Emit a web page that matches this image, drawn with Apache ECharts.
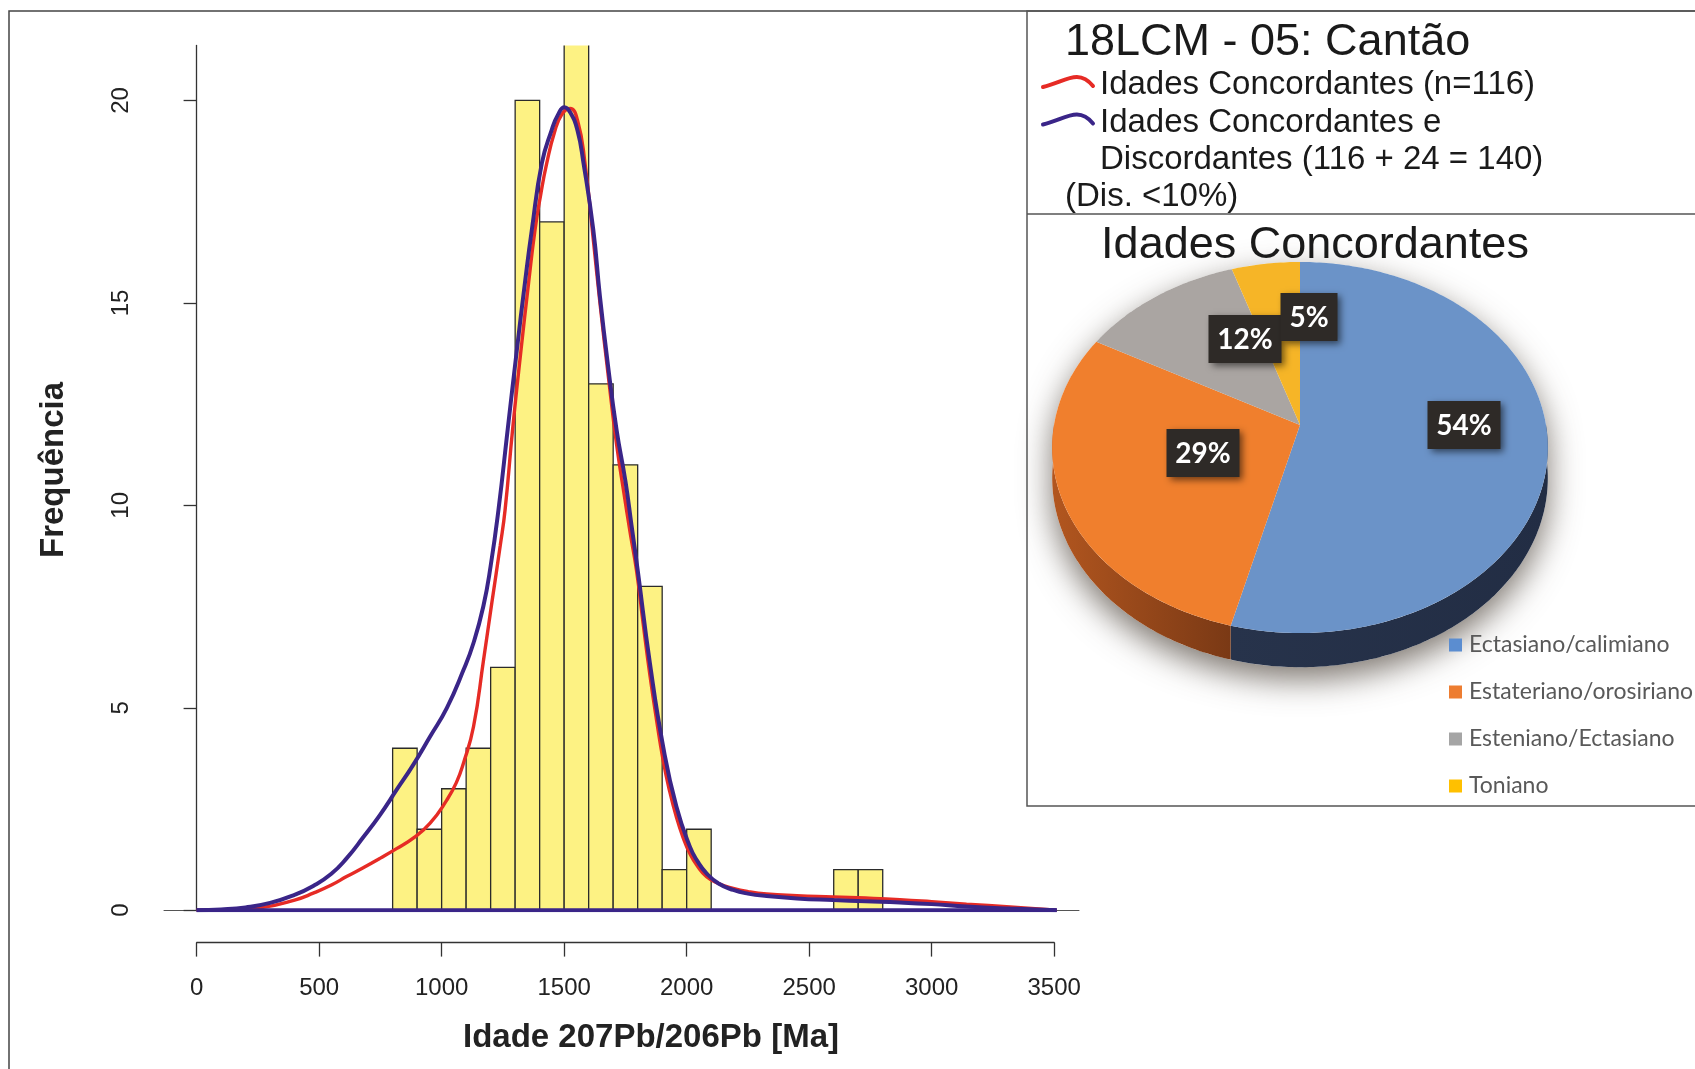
<!DOCTYPE html>
<html><head><meta charset="utf-8">
<script src="https://cdn.jsdelivr.net/npm/echarts@6/dist/echarts.min.js"></script>
<style>html,body{margin:0;padding:0;background:#fff}#c{width:1695px;height:1069px}</style>
</head><body><div id="c"></div>
<script>
// ---------------- data ----------------
const binStarts = [800, 900, 1000, 1100, 1200, 1300, 1400, 1500, 1600, 1700, 1800, 1900, 2000, 2600, 2700];
const binCounts = [4, 2, 3, 4, 6, 20, 17, 23, 13, 11, 8, 1, 2, 1, 1];
const BIN_WIDTH = 100;

const redAge  = [0, 150, 271, 400, 476, 550, 612, 680, 748, 816, 884, 953, 1021, 1060, 1089, 1130, 1171, 1205, 1239, 1259, 1290, 1324, 1355, 1381, 1405, 1429, 1460, 1490, 1524, 1555, 1585, 1620, 1646, 1680, 1714, 1744, 1770, 1795, 1822, 1850, 1877, 1904, 1930, 1958, 1985, 2013, 2045, 2081, 2130, 2190, 2250, 2326, 2450, 2598, 2730, 2870, 3000, 3142, 3320, 3510];
const redFreq = [0, 0.02, 0.07, 0.25, 0.42, 0.62, 0.83, 1.05, 1.28, 1.52, 1.78, 2.15, 2.72, 3.15, 3.63, 4.53, 6.18, 7.6, 9.0, 9.89, 11.9, 13.84, 15.5, 16.8, 17.7, 18.45, 19.2, 19.65, 19.8, 19.5, 18.45, 16.5, 15.0, 13.2, 11.5, 10.3, 9.3, 8.4, 7.1, 5.8, 4.7, 3.7, 2.95, 2.3, 1.8, 1.4, 1.08, 0.83, 0.66, 0.54, 0.46, 0.4, 0.36, 0.33, 0.3, 0.26, 0.21, 0.15, 0.08, 0];

const blueAge  = [0, 100, 200, 300, 400, 476, 550, 612, 680, 748, 816, 884, 953, 1021, 1089, 1130, 1170, 1200, 1232, 1270, 1307, 1340, 1368, 1409, 1449, 1475, 1501, 1525, 1554, 1579, 1619, 1646, 1678, 1714, 1750, 1775, 1800, 1850, 1904, 1958, 2013, 2045, 2081, 2130, 2190, 2250, 2326, 2450, 2598, 2730, 2870, 3000, 3142, 3320, 3510];
const blueFreq = [0, 0.02, 0.07, 0.18, 0.38, 0.6, 0.9, 1.28, 1.8, 2.35, 2.97, 3.59, 4.29, 4.99, 5.93, 6.6, 7.5, 8.5, 9.89, 11.9, 13.84, 15.5, 16.8, 18.45, 19.27, 19.65, 19.83, 19.7, 19.27, 18.45, 16.8, 15.16, 13.5, 11.86, 10.6, 9.5, 8.4, 6.1, 4.04, 2.56, 1.57, 1.2, 0.91, 0.66, 0.5, 0.41, 0.35, 0.29, 0.25, 0.22, 0.19, 0.15, 0.09, 0.04, 0];

const xTicks = [0, 500, 1000, 1500, 2000, 2500, 3000, 3500];
const yTicks = [0, 5, 10, 15, 20];

const pieNames  = ['Ectasiano/calimiano', 'Estateriano/orosiriano', 'Esteniano/Ectasiano', 'Toniano'];
const pieValues = [54, 29, 12, 5];

const xTitle = 'Idade 207Pb/206Pb [Ma]';
const yTitle = 'Frequência';
const panelTitle = '18LCM - 05: Cantão';
const redLegend = 'Idades Concordantes (n=116)';
const blueLegend = ['Idades Concordantes e', 'Discordantes (116 + 24 = 140)'];
const noteText = '(Dis. <10%)';
const pieTitle = 'Idades Concordantes';

// ---------------- styles / layout ----------------
const SANS = '"Liberation Sans", Arial, sans-serif';
const CAL = 'Lato, "Open Sans", sans-serif';
const pieTop   = ['#6b93c8', '#f07f2d', '#aaa5a2', '#f6b527'];
const pieSide  = [['#27334b', '#222d44'], ['#b2561f', '#7a3915'], ['#7f7a77', '#6f6a67'], ['#b88512', '#a57510']];
const pieLegendColor = ['#5b8dd0', '#ed7d31', '#a5a5a5', '#ffc000'];
const PIE = {cx: 1300, cy: 425, rx: 246, ry: 182.8, k: 0.1213, h: 30};
const labelOffsets = [[164, 0], [-97, 28], [-55, -86], [9, -108]];

const total = pieValues.reduce((a, b) => a + b, 0);
const starts = [];
{ let acc = 0; pieValues.forEach(v => { starts.push(acc / total * 2 * Math.PI); acc += v; }); }
function proj(t, d) {
  const w = 1 + PIE.k * Math.cos(t);
  return [PIE.cx + PIE.rx * Math.sin(t) / w, PIE.cy + (-PIE.ry * Math.cos(t) + d) / w];
}
function arc(a0, a1, d) {
  const n = Math.max(6, Math.ceil((a1 - a0) / 0.015));
  const pts = [];
  for (let i = 0; i <= n; i++) pts.push(proj(a0 + (a1 - a0) * i / n, d));
  return pts;
}

const chart = echarts.init(document.getElementById('c'), null, {renderer: 'canvas'});

const option = {
  backgroundColor: '#ffffff',
  animation: false,
  grid: [
    {left: 164, top: 45.4, width: 915, height: 864.8, containLabel: false, outerBoundsMode: 'none'},
    {left: 196.7, top: 900, width: 857.5, height: 42.6, containLabel: false, outerBoundsMode: 'none'}
  ],
  xAxis: [
    {gridIndex: 0, type: 'value', min: -133, max: 3601,
      axisLine: {show: true, onZero: true, lineStyle: {color: '#555', width: 1}},
      axisTick: {show: false}, axisLabel: {show: false}, splitLine: {show: false}},
    {gridIndex: 1, type: 'value', min: 0, max: 3500, interval: 500,
      axisLine: {show: true, lineStyle: {color: '#333', width: 1.3}},
      axisTick: {show: true, length: 14, customValues: xTicks, lineStyle: {color: '#333', width: 1.3}},
      axisLabel: {show: true, customValues: xTicks, margin: 34, fontSize: 24, fontFamily: SANS, color: '#222',
        formatter: v => String(v)},
      splitLine: {show: false}}
  ],
  yAxis: [
    {gridIndex: 0, type: 'value', min: 0, max: 21.36,
      axisLine: {show: true, lineStyle: {color: '#333', width: 1.3}},
      axisTick: {show: true, length: 13, customValues: yTicks, lineStyle: {color: '#333', width: 1.3}},
      axisLabel: {show: true, customValues: yTicks, rotate: 90, margin: 31, fontSize: 24, fontFamily: SANS, color: '#222',
        formatter: v => String(v)},
      splitLine: {show: false}},
    {gridIndex: 1, type: 'value', min: 0, max: 1, show: false}
  ],
  series: [
    {
      type: 'custom', name: 'hist', xAxisIndex: 0, yAxisIndex: 0, z: 2,
      data: binStarts.map((s, i) => [s, binCounts[i]]),
      renderItem: function (params, api) {
        const x0 = api.value(0), c = api.value(1);
        const p0 = api.coord([x0, 0]);
        const p1 = api.coord([x0 + BIN_WIDTH, c]);
        const cs = params.coordSys;
        const clipped = p1[1] < cs.y;
        const top = clipped ? cs.y : p1[1];
        const style = {fill: '#fdf283', stroke: '#2b2b2b', lineWidth: 1.3};
        if (!clipped) {
          return {type: 'rect', shape: {x: p0[0], y: top, width: p1[0] - p0[0], height: p0[1] - top}, style: style};
        }
        return {type: 'group', children: [
          {type: 'rect', shape: {x: p0[0], y: top, width: p1[0] - p0[0], height: p0[1] - top}, style: {fill: style.fill}},
          {type: 'polyline', shape: {points: [[p0[0], top], [p0[0], p0[1]], [p1[0], p0[1]], [p1[0], top]]}, style: {fill: null, stroke: style.stroke, lineWidth: style.lineWidth}}
        ]};
      }
    },
    {
      type: 'line', name: redLegend, xAxisIndex: 0, yAxisIndex: 0, z: 3,
      data: redAge.map((a, i) => [a, redFreq[i]]),
      showSymbol: false, smooth: 0.5,
      lineStyle: {color: '#e62b25', width: 3.4}
    },
    {
      type: 'line', name: 'blueBase', xAxisIndex: 0, yAxisIndex: 0, z: 4,
      data: [[blueAge[0], 0], [blueAge[blueAge.length - 1], 0]],
      showSymbol: false,
      lineStyle: {color: '#3a2588', width: 4}
    },
    {
      type: 'line', name: blueLegend.join(' '), xAxisIndex: 0, yAxisIndex: 0, z: 4,
      data: blueAge.map((a, i) => [a, blueFreq[i]]),
      showSymbol: false, smooth: 0.5,
      lineStyle: {color: '#3a2588', width: 4}
    },
    {
      type: 'scatter', xAxisIndex: 1, yAxisIndex: 1, data: [], silent: true
    },
    {
      type: 'custom', name: 'pie', coordinateSystem: 'none', z: 5,
      data: pieValues.map((v, i) => [v, i]),
      renderItem: function (params, api) {
        const i = params.dataIndex;
        const a0 = starts[i];
        const a1 = a0 + api.value(0) / total * 2 * Math.PI;
        const children = [];
        if (i === 0) {
          const sil = arc(Math.PI / 2 - 0.2, 3 * Math.PI / 2 + 0.2, PIE.h).concat(arc(-Math.PI / 2 - 0.2, Math.PI / 2 + 0.2, 0));
          children.push({type: 'polygon', z2: 0, shape: {points: sil},
            style: {fill: '#ffffff', shadowBlur: 32, shadowColor: 'rgba(70,60,50,0.7)', shadowOffsetY: 12}});
        }
        const s0 = Math.max(a0, Math.PI / 2), s1 = Math.min(a1, 3 * Math.PI / 2);
        if (s0 < s1) {
          const topArc = arc(s0, s1, 0);
          const botArc = arc(s0, s1, PIE.h).reverse();
          const xs = topArc.map(p => p[0]);
          children.push({type: 'polygon', z2: 1, shape: {points: topArc.concat(botArc)},
            style: {fill: new echarts.graphic.LinearGradient(Math.min(...xs), 0, Math.max(...xs), 0, [
              {offset: 0, color: pieSide[i][0]}, {offset: 1, color: pieSide[i][1]}], true)}});
        }
        const topPts = [[PIE.cx, PIE.cy]].concat(arc(a0, a1, 0));
        children.push({type: 'polygon', z2: 2, shape: {points: topPts}, style: {fill: pieTop[i]}});
        const txt = Math.round(api.value(0) / total * 100) + '%';
        const bw = txt.length >= 3 ? 73 : 57, bh = 48;
        const lx = PIE.cx + labelOffsets[i][0], ly = PIE.cy + labelOffsets[i][1];
        children.push({type: 'rect', z2: 10 + i * 2, shape: {x: lx - bw / 2, y: ly - bh / 2, width: bw, height: bh},
          style: {fill: '#2e2a27', shadowBlur: 7, shadowColor: 'rgba(0,0,0,0.55)', shadowOffsetX: 3, shadowOffsetY: 3}});
        children.push({type: 'text', z2: 11 + i * 2, x: lx, y: ly + 1,
          style: {text: txt, fill: '#ffffff', font: 'bold 28px ' + CAL, align: 'center', verticalAlign: 'middle'}});
        return {type: 'group', children: children};
      }
    }
  ],
  graphic: [
    {type: 'rect', z: 100, shape: {x: 9, y: 11, width: 1750, height: 1100}, style: {fill: null, stroke: '#444', lineWidth: 1.5}},
    {type: 'rect', z: 100, shape: {x: 1027, y: 11, width: 750, height: 795}, style: {fill: null, stroke: '#555', lineWidth: 1.5}},
    {type: 'line', z: 100, shape: {x1: 1027, y1: 214, x2: 1700, y2: 214}, style: {stroke: '#555', lineWidth: 1.5}},
    {type: 'text', z: 100, x: 54, y: 470, rotation: Math.PI / 2,
      style: {text: yTitle, font: 'bold 33px ' + SANS, fill: '#222', align: 'center', verticalAlign: 'middle'}},
    {type: 'text', z: 100, x: 651, y: 1038,
      style: {text: xTitle, font: 'bold 33px ' + SANS, fill: '#222', align: 'center', verticalAlign: 'middle'}},
    {type: 'text', z: 100, x: 1065, y: 43,
      style: {text: panelTitle, font: '45px ' + SANS, fill: '#1a1a1a', align: 'left', verticalAlign: 'middle'}},
    {type: 'bezierCurve', z: 100, shape: {x1: 1043, y1: 87, cpx1: 1065, cpy1: 82, cpx2: 1078, cpy2: 68, x2: 1093, y2: 86},
      style: {stroke: '#e62b25', lineWidth: 4, fill: null, lineCap: 'round'}},
    {type: 'text', z: 100, x: 1100, y: 85,
      style: {text: redLegend, font: '33px ' + SANS, fill: '#1a1a1a', align: 'left', verticalAlign: 'middle'}},
    {type: 'bezierCurve', z: 100, shape: {x1: 1043, y1: 124.5, cpx1: 1065, cpy1: 119.5, cpx2: 1078, cpy2: 105.5, x2: 1093, y2: 123.5},
      style: {stroke: '#3a2588', lineWidth: 4, fill: null, lineCap: 'round'}},
    {type: 'text', z: 100, x: 1100, y: 123,
      style: {text: blueLegend[0], font: '33px ' + SANS, fill: '#1a1a1a', align: 'left', verticalAlign: 'middle'}},
    {type: 'text', z: 100, x: 1100, y: 160,
      style: {text: blueLegend[1], font: '33px ' + SANS, fill: '#1a1a1a', align: 'left', verticalAlign: 'middle'}},
    {type: 'text', z: 100, x: 1065, y: 197,
      style: {text: noteText, font: '33px ' + SANS, fill: '#1a1a1a', align: 'left', verticalAlign: 'middle'}},
    {type: 'text', z: 100, x: 1315, y: 246,
      style: {text: pieTitle, font: '45px ' + SANS, fill: '#1a1a1a', align: 'center', verticalAlign: 'middle'}}
  ].concat(pieNames.flatMap((n, i) => [
    {type: 'rect', z: 100, shape: {x: 1449, y: 645 + i * 47 - 6.5, width: 13, height: 13}, style: {fill: pieLegendColor[i]}},
    {type: 'text', z: 100, x: 1469, y: 645 + i * 47,
      style: {text: n, font: '23px ' + CAL, fill: '#595959', align: 'left', verticalAlign: 'middle'}}
  ]))
};
chart.setOption(option);
</script>
</body></html>
